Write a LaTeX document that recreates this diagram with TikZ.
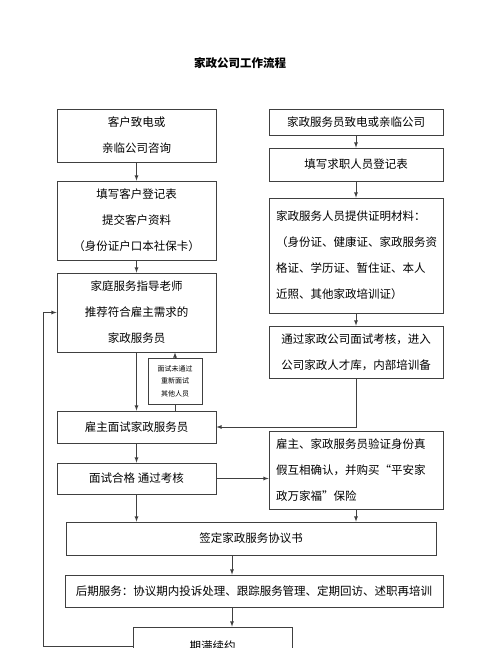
\documentclass[tikz,border=0pt]{standalone}
\usepackage{fontspec}
\setmainfont{Noto Sans CJK SC}
\usetikzlibrary{calc,arrows,positioning}
\definecolor{linegrey}{gray}{0.25}

\begin{document}
\begin{tikzpicture}[x=1pt,y=-1pt,>=latex]

\tikzset{flowbox/.style={draw=linegrey,line width=0.8pt,inner sep=0pt,font=\fontsize{11.5}{26}\selectfont,align=center},
tinybox/.style={draw=linegrey,line width=0.8pt,inner sep=0pt,font=\fontsize{7}{12.5}\selectfont,align=center},
textbox/.style={flowbox,align=left,inner xsep=7pt,text width=160pt},
link/.style={->,draw=linegrey,line width=0.8pt}}

\useasboundingbox (0,0) rectangle (480,648);
\fill[white] (0,0) rectangle (480,648);

% Title
\node[font=\fontsize{11.5}{14}\selectfont\bfseries] (title) at (240,63) {家政公司工作流程};

% Left column (employer)
\node[flowbox,minimum width=159pt,minimum height=53pt] (ask) at (136.5,135.5) {客户致电或\\亲临公司咨询};
\node[flowbox,minimum width=159pt,minimum height=79pt] (form) at (136.5,220.5) {填写客户登记表\\提交客户资料\\（身份证户口本社保卡）};
\node[flowbox,minimum width=159pt,minimum height=79pt] (teacher) at (136.5,312.5) {家庭服务指导老师\\推荐符合雇主需求的\\家政服务员};
\node[tinybox,minimum width=54pt,minimum height=46pt] (retry) at (175,381) {面试未通过\\重新面试\\其他人员};
\node[flowbox,minimum width=159pt,minimum height=32pt] (meet) at (136.5,427) {雇主面试家政服务员};
\node[flowbox,minimum width=159pt,minimum height=31pt] (pass) at (136.5,478.5) {面试合格\ 通过考核};

% Right column (service staff)
\node[flowbox,minimum width=174pt,minimum height=26pt] (call) at (356,122) {家政服务员致电或亲临公司};
\node[flowbox,minimum width=174pt,minimum height=33pt] (apply) at (356,164.5) {填写求职人员登记表};
\node[textbox,minimum height=115pt] (proof) at (356,255.5) {家政服务人员提供证明材料：\\（身份证、健康证、家政服务资\\格证、学历证、暂住证、本人\\近照、其他家政培训证）};
\node[flowbox,minimum width=174pt,minimum height=52pt] (pool) at (356,352) {通过家政公司面试考核，进入\\公司家政人才库，内部培训备};
\node[textbox,minimum height=78pt] (check) at (356,470) {雇主、家政服务员验证身份真\\假互相确认，并购买“平安家\\政万家福”保险};

% Bottom rows
\node[flowbox,minimum width=370pt,minimum height=33pt] (sign) at (251,538.5) {签定家政服务协议书};
\node[flowbox,minimum width=378pt,minimum height=32pt] (after) at (254,591) {后期服务：协议期内投诉处理、跟踪服务管理、定期回访、述职再培训};
\node[flowbox,minimum width=159pt,minimum height=38pt] (renew) at (212.5,646) {期满续约};

\coordinate (mid) at (232,0);
\coordinate (back) at (43,0);

% Edges
\draw[link] (ask) -- (form);
\draw[link] (form) -- (teacher);
\draw[link] (teacher) -- (meet);
\draw[draw=linegrey,line width=0.8pt] (meet.north -| retry.south) -- (retry.south);
\draw[link] (retry.north) -- (retry.north |- teacher.south);
\draw[link] (meet) -- (pass);
\draw[link] (pass.east) -- (pass.east -| check.west);
\draw[link] (pass.south) -- (pass.south |- sign.north);

\draw[link] (call) -- (apply);
\draw[link] (apply) -- (proof);
\draw[link] (proof) -- (pool);
\draw[link] (pool.south) |- (meet.east);
\draw[link] (check.south) -- (check.south |- sign.north);

\draw[link] (sign.south -| mid) -- (after.north -| mid);
\draw[link] (after.south -| mid) -- (renew.north -| mid);
\draw[link] (renew.west) -- (renew.west -| back) |- (teacher.west);

\end{tikzpicture}
\end{document}
